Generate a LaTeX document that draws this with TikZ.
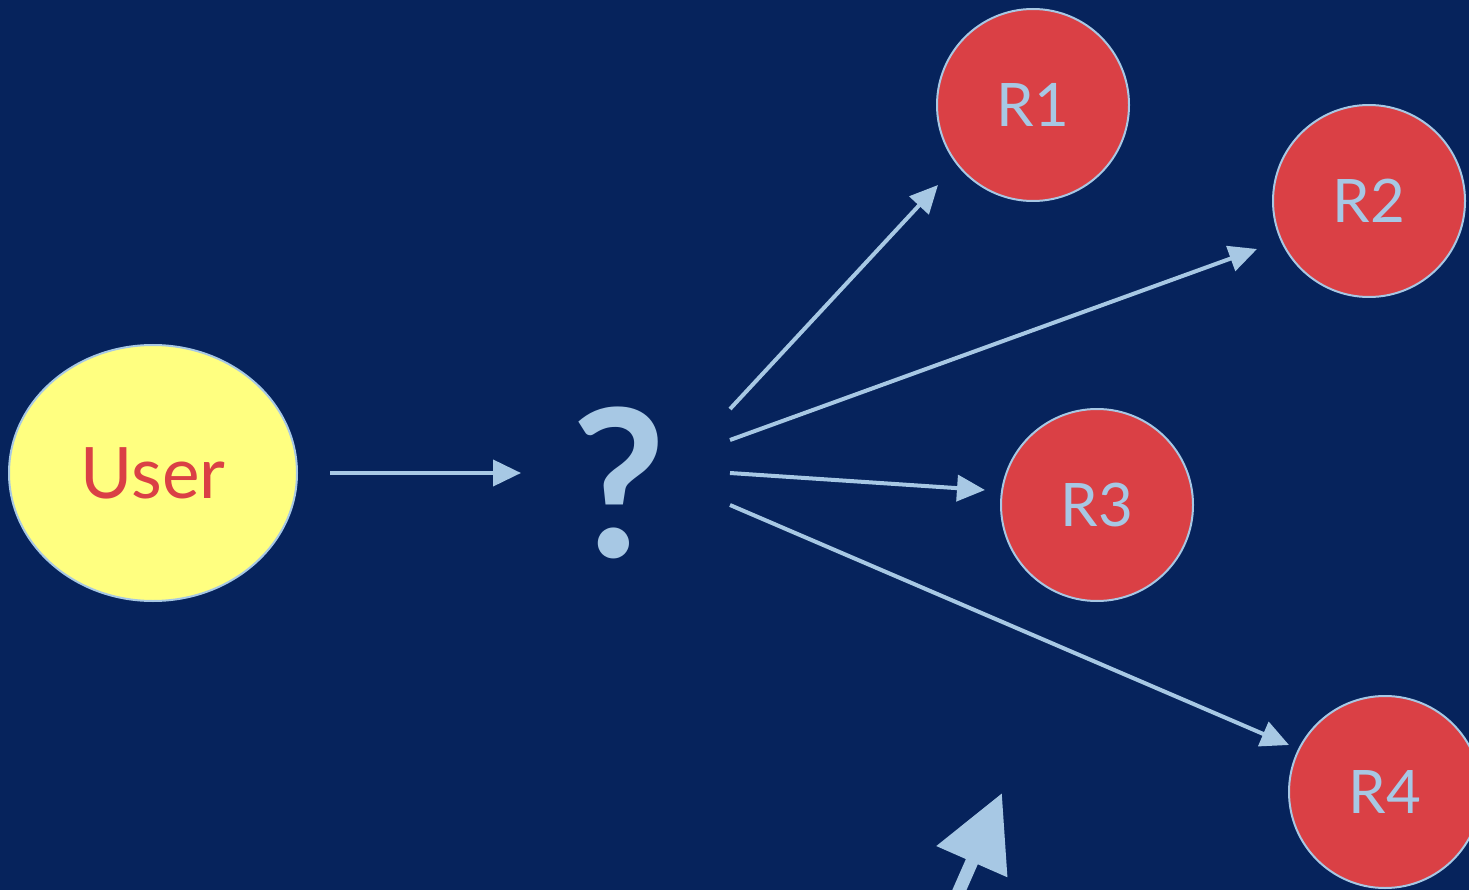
\documentclass[tikz,border=0pt]{standalone}
\usepackage{fontspec}
\setmainfont{Lato}
\usetikzlibrary{arrows.meta,shapes.geometric}
\definecolor{bg}{RGB}{6,35,92}
\definecolor{lblue}{RGB}{167,200,228}
\definecolor{rred}{RGB}{218,64,69}
\definecolor{uyellow}{RGB}{255,255,128}
\tikzset{
  rnode/.style={circle, minimum size=192pt, inner sep=0pt, fill=rred, draw=lblue, line width=2pt,
    text=lblue, font=\fontsize{60}{70}\selectfont},
  unode/.style={ellipse, minimum width=288pt, minimum height=256pt, inner sep=0pt, fill=uyellow, draw=lblue, line width=2pt,
    text=rred, font=\fontsize{71}{80}\selectfont},
  arr/.style={draw=lblue, line width=4pt, -{Triangle[length=28pt,width=26pt]}, color=lblue},
  bigarr/.style={draw=lblue, line width=13pt, -{Triangle[length=75pt,width=74pt]}, color=lblue},
}
\begin{document}
\begin{tikzpicture}[x=1pt,y=-1pt]
\useasboundingbox (0,0) rectangle (1469,890);
\clip (0,0) rectangle (1469,890);
\fill[bg] (0,0) rectangle (1469,890);

\node[unode] (User) at (153,473) {User};
\node[anchor=base, text=lblue, font=\fontsize{206}{210}\selectfont\bfseries, inner sep=0pt] (Q) at (619,557) {?};

\node[rnode] (R1) at (1033,105) {R1};
\node[rnode] (R2) at (1369,201) {R2};
\node[rnode] (R3) at (1097,505) {R3};
\node[rnode] (R4) at (1385,792) {R4};

\coordinate (qin) at (521,473);
\coordinate (s1) at (730,409);
\coordinate (s2) at (730,440);
\coordinate (s3) at (730,473);
\coordinate (s4) at (730,505);
\coordinate (e1) at (938,185);
\coordinate (e2) at (1257,249);
\coordinate (e3) at (985,490);
\coordinate (e4) at (1289,745);
\coordinate (bigstart) at (955,900);
\coordinate (bigtip) at (1002,793);

\draw[arr, shorten <=32pt] (User) -- (qin);
\draw[arr] (s1) -- (e1);
\draw[arr] (s2) -- (e2);
\draw[arr] (s3) -- (e3);
\draw[arr] (s4) -- (e4);
\draw[bigarr] (bigstart) -- (bigtip);
\end{tikzpicture}
\end{document}
